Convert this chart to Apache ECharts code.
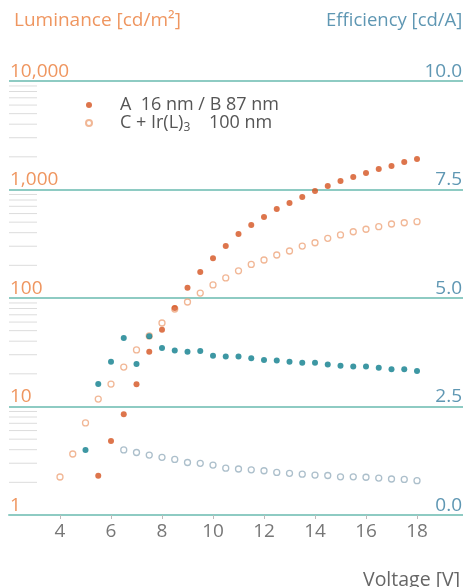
<!DOCTYPE html>
<html>
<head>
<meta charset="utf-8">
<script src="https://cdn.jsdelivr.net/npm/echarts@6/dist/echarts.min.js"></script>
<style>
html,body{margin:0;padding:0;background:#fff;}
#chart{width:463px;height:587px;}
</style>
</head>
<body>
<div id="chart"></div>
<script>
// ---- data ----
const xTicks = [4, 6, 8, 10, 12, 14, 16, 18];
const lumTicks = [1, 10, 100, 1000, 10000];
const effTicks = [0, 2.5, 5, 7.5, 10];
const minorTickValues = [2,3,4,5,6,7,8,9, 20,30,40,50,60,70,80,90, 200,300,400,500,600,700,800,900, 2000,3000,4000,5000,6000,7000,8000,9000];

const nameA = 'A  16 nm / B 87 nm';
const nameC = 'C + Ir(L)3    100 nm';

const voltLumA = [5.5,6,6.5,7,7.5,8,8.5,9,9.5,10,10.5,11,11.5,12,12.5,13,13.5,14,14.5,15,15.5,16,16.5,17,17.5,18];
const lumA = [2.3,4.8,8.5,16,32,51,81,124,174,232,301,389,471,558,661,751,853,968,1077,1198,1304,1420,1545,1648,1792,1910];

const voltLumC = [4,4.5,5,5.5,6,6.5,7,7.5,8,8.5,9,9.5,10,10.5,11,11.5,12,12.5,13,13.5,14,14.5,15,15.5,16,16.5,17,17.5,18];
const lumC = [2.24,3.65,7.05,11.7,16.1,23.1,33.2,44.7,58.8,79.2,91.9,111,132,153,178,204,224,249,271,301,323,355,381,408,430,454,481,494,505];

const voltEffA = [5,5.5,6,6.5,7,7.5,8,8.5,9,9.5,10,10.5,11,11.5,12,12.5,13,13.5,14,14.5,15,15.5,16,16.5,17,17.5,18];
const effA = [1.50,3.02,3.53,4.08,3.48,4.12,3.85,3.79,3.76,3.78,3.67,3.65,3.65,3.61,3.57,3.56,3.53,3.51,3.51,3.47,3.44,3.42,3.42,3.39,3.36,3.36,3.32];

const voltEffC = [6.5,7,7.5,8,8.5,9,9.5,10,10.5,11,11.5,12,12.5,13,13.5,14,14.5,15,15.5,16,16.5,17,17.5,18];
const effC = [1.50,1.44,1.38,1.33,1.28,1.21,1.19,1.15,1.08,1.06,1.04,1.02,0.98,0.96,0.94,0.92,0.91,0.88,0.88,0.87,0.85,0.83,0.82,0.79];

// ---- colours ----
const cOrangeText = '#ef9660';
const cOrangeDark = '#d4521f';
const cOrangeLight = '#eda57c';
const cTeal = '#0c7d8c';
const cTealLight = '#97afbe';
const cGrid = '#8ecbc3';
const cBlueText = '#5f97b3';
const FONT = '"Open Sans", "Noto Sans", sans-serif';

function pairs(xs, ys) { return xs.map((x, i) => [x, ys[i]]); }

const chart = echarts.init(document.getElementById('chart'), null, {renderer: 'canvas'});
chart.setOption({
  animation: false,
  backgroundColor: '#ffffff',
  textStyle: {fontFamily: FONT},
  title: [
    {text: 'Luminance [cd/m²]', left: 9, top: 6, textStyle: {color: cOrangeText, fontSize: 19, fontWeight: 'normal', fontFamily: FONT}},
    {text: 'Efficiency [cd/A]', left: 321, top: 6, textStyle: {color: cBlueText, fontSize: 18.5, fontWeight: 'normal', fontFamily: FONT}},
    {text: 'Voltage [V]', left: 358, top: 565, textStyle: {color: '#666', fontSize: 19.5, fontWeight: 'normal', fontFamily: FONT}}
  ],
  legend: {
    left: 80, top: 91, orient: 'vertical', itemGap: 0,
    itemWidth: 52, itemHeight: 6, icon: 'circle',
    data: [nameA, nameC],
    formatter: function (n) { return n === nameC ? 'C + Ir(L){s|3}    100 nm' : n; },
    textStyle: {color: '#555', fontSize: 18, fontFamily: FONT,
      rich: {s: {fontSize: 12, verticalAlign: 'bottom', padding: [9, 0, 0, 0], color: '#555', fontFamily: FONT}}}
  },
  grid: {left: 9, top: 81, width: 459, height: 434, containLabel: false, outerBoundsMode: 'none'},
  xAxis: {
    type: 'value', min: 2, max: 20, interval: 2,
    axisLine: {show: true, lineStyle: {color: cGrid, width: 2}},
    axisTick: {show: true, length: 4, lineStyle: {color: '#bbb'}, customValues: xTicks},
    axisLabel: {color: '#777', fontSize: 19, margin: 7, fontFamily: FONT, customValues: xTicks},
    splitLine: {show: false}
  },
  yAxis: [
    {
      type: 'log', logBase: 10, min: 1, max: 10000, position: 'left',
      axisLine: {show: false}, axisTick: {show: false},
      splitLine: {show: true, lineStyle: {color: cGrid, width: 2}},
      axisLabel: {inside: true, margin: 1, verticalAlign: 'bottom', align: 'left', color: cOrangeText, fontSize: 19, fontFamily: FONT,
        formatter: function (v) { return Number(v).toLocaleString('en-US'); }}
    },
    {
      type: 'value', min: 0, max: 10, interval: 2.5, position: 'right',
      axisLine: {show: false}, axisTick: {show: false}, splitLine: {show: false},
      axisLabel: {inside: true, margin: 6, verticalAlign: 'bottom', align: 'right', color: cBlueText, fontSize: 19, fontFamily: FONT,
        formatter: function (v) { return Number(v).toFixed(1); }}
    }
  ],
  series: [
    {
      name: 'minorTicks', type: 'custom', xAxisIndex: 0, yAxisIndex: 0, silent: true, clip: false,
      data: minorTickValues.map(v => [2, v]),
      renderItem: function (params, api) {
        const p = api.coord([api.value(0), api.value(1)]);
        return {type: 'line', shape: {x1: p[0], y1: p[1], x2: p[0] + 28, y2: p[1]},
          style: {stroke: '#dcdcdc', lineWidth: 1}};
      },
      z: 1
    },
    {
      name: nameC, type: 'scatter', yAxisIndex: 0, symbol: 'circle', symbolSize: 6,
      itemStyle: {color: '#fff', borderColor: cOrangeLight, borderWidth: 1.3},
      data: pairs(voltLumC, lumC), z: 3
    },
    {
      name: nameA, type: 'scatter', yAxisIndex: 0, symbol: 'circle', symbolSize: 6,
      itemStyle: {color: cOrangeDark, borderColor: cOrangeDark, borderWidth: 0},
      data: pairs(voltLumA, lumA), z: 4
    },
    {
      name: 'effC', type: 'scatter', yAxisIndex: 1, symbol: 'circle', symbolSize: 6,
      itemStyle: {color: '#fff', borderColor: cTealLight, borderWidth: 1.3},
      data: pairs(voltEffC, effC), z: 5
    },
    {
      name: 'effA', type: 'scatter', yAxisIndex: 1, symbol: 'circle', symbolSize: 6,
      itemStyle: {color: cTeal, borderWidth: 0},
      data: pairs(voltEffA, effA), z: 6
    }
  ]
});
</script>
</body>
</html>
